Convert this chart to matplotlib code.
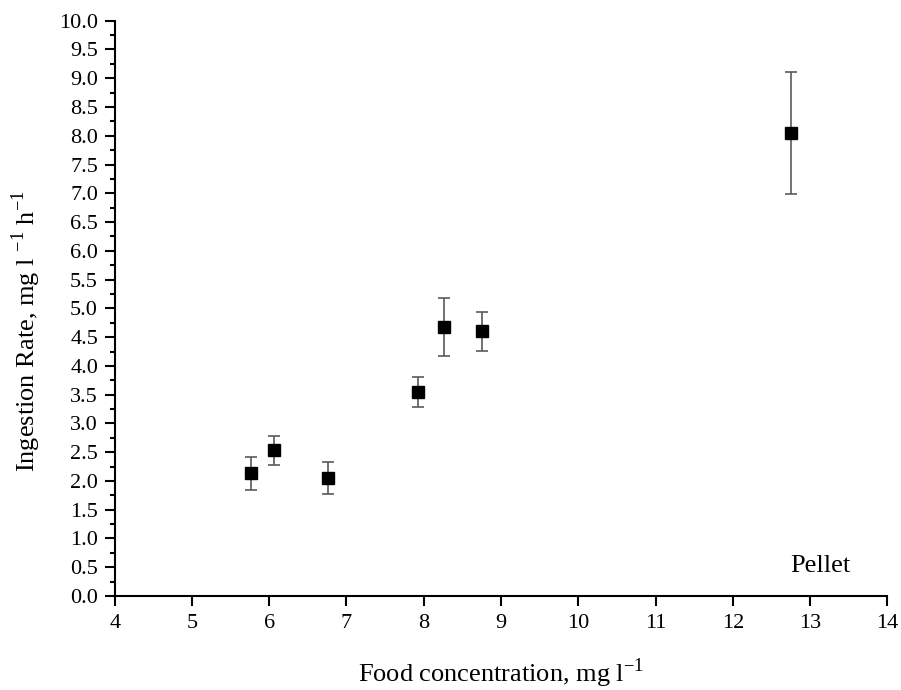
import matplotlib.pyplot as plt
from matplotlib.ticker import MultipleLocator, FormatStrFormatter

plt.rcParams["font.family"] = ["Liberation Serif", "DejaVu Serif"]
plt.rcParams["mathtext.fontset"] = "custom"
plt.rcParams["mathtext.rm"] = "Liberation Serif"

# ingestion rate vs food concentration, pellet diet
food_conc = [5.76, 6.06, 6.76, 7.92, 8.26, 8.75, 12.75]
ingestion = [2.13, 2.53, 2.05, 3.55, 4.68, 4.60, 8.05]
ingestion_err = [0.29, 0.26, 0.28, 0.26, 0.50, 0.34, 1.06]

fig = plt.figure(figsize=(9.01, 6.90), dpi=100)
ax = fig.add_axes([0.1273, 0.1362, 0.8575, 0.8338])

ax.errorbar(food_conc, ingestion, yerr=ingestion_err, fmt="s", color="black",
            markersize=8.5, ecolor="#5a5a5a", elinewidth=1.2, capsize=4.2, capthick=1.2)

ax.set_xlim(4, 14)
ax.set_ylim(0, 10)
ax.xaxis.set_major_locator(MultipleLocator(1))
ax.yaxis.set_major_locator(MultipleLocator(0.5))
ax.yaxis.set_minor_locator(MultipleLocator(0.25))
ax.yaxis.set_major_formatter(FormatStrFormatter("%.1f"))

for side in ("top", "right"):
    ax.spines[side].set_visible(False)
for side in ("left", "bottom"):
    ax.spines[side].set_linewidth(1.5)

ax.tick_params(axis="both", which="major", direction="out", length=7, width=1.5,
               labelsize=16)
ax.tick_params(axis="x", which="major", pad=6)
ax.tick_params(axis="y", which="major", pad=5)
ax.tick_params(axis="y", which="minor", direction="out", length=3.6, width=1.5)

ax.set_xlabel("Food concentration, mg l$^{-1}$", fontsize=19)
ax.set_ylabel("Ingestion Rate, mg l $^{-1}$ h$^{-1}$", fontsize=19)
ax.xaxis.set_label_coords(0.5, -0.105)
ax.yaxis.set_label_coords(-0.093, 0.461)

ax.text(13.13, 0.42, "Pellet", fontsize=19, ha="center", va="baseline")

fig.savefig("out.png", dpi=100)
